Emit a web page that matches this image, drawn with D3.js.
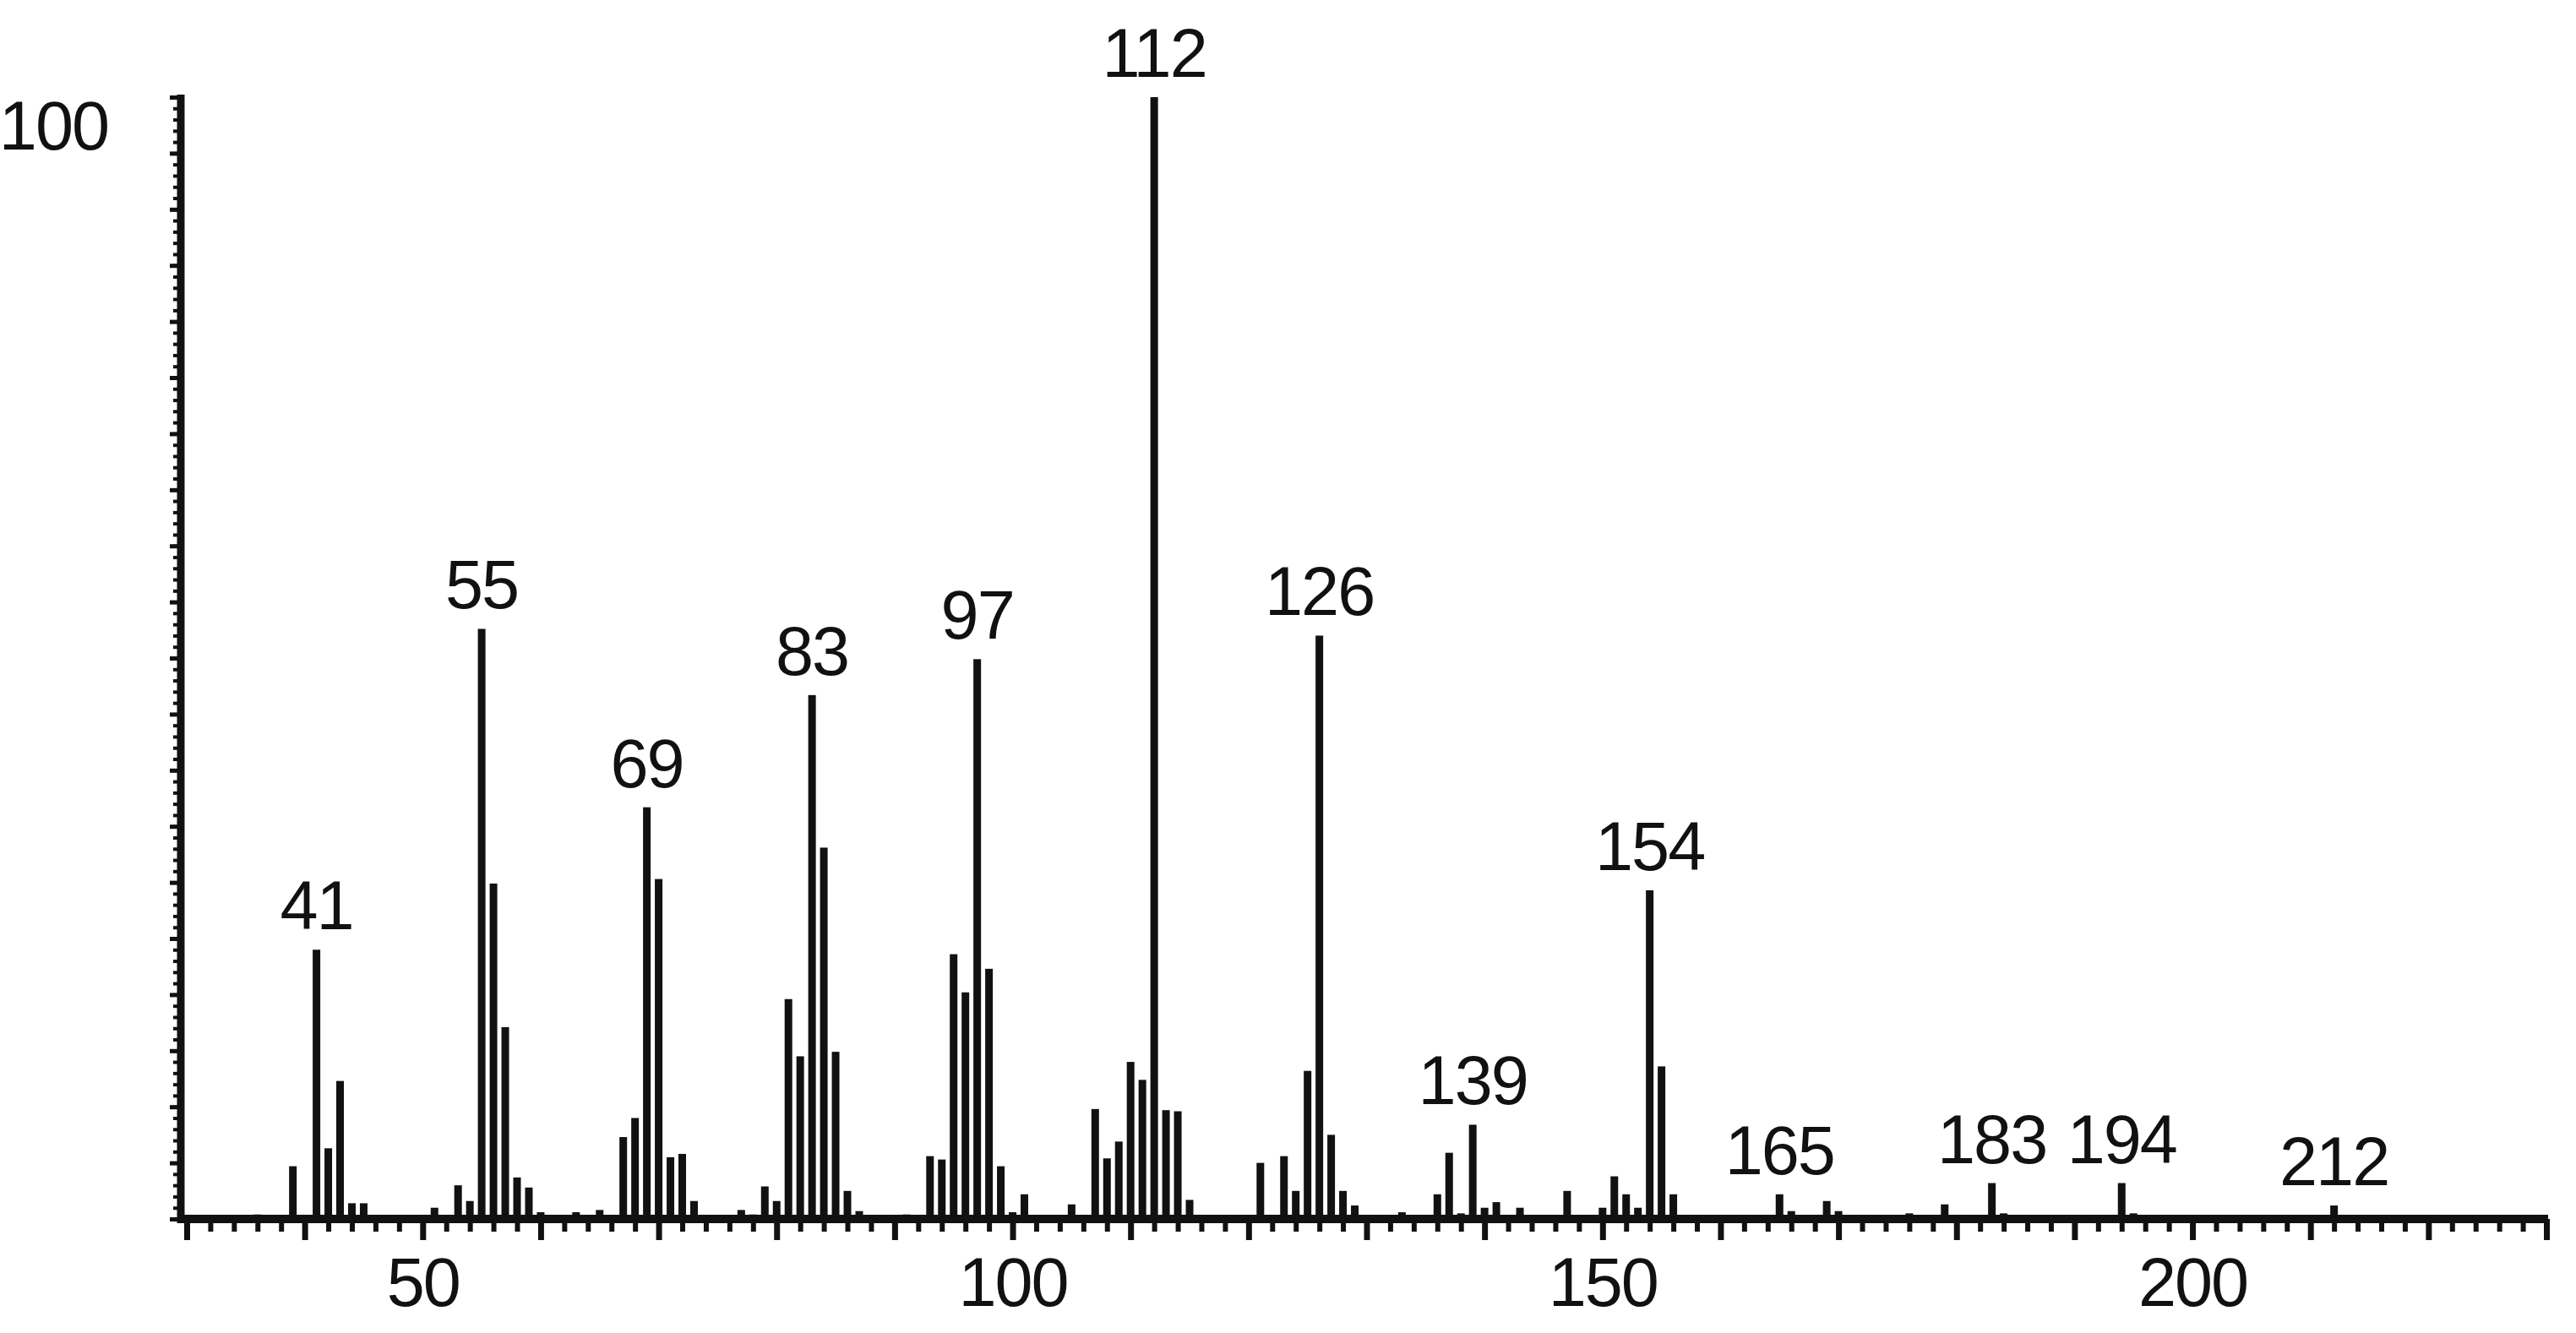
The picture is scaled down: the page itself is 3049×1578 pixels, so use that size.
<!DOCTYPE html>
<html>
<head>
<meta charset="utf-8">
<title>Mass spectrum</title>
<script src="https://d3js.org/d3.v7.min.js"></script>
<style>
  html, body { margin: 0; padding: 0; background: #fff; }
  svg text { font-family: "Liberation Sans", Arial, Helvetica, sans-serif; fill: #111; letter-spacing: -2px; }
</style>
</head>
<body>
<script>
// m/z of every line in the spectrum
const mz = [36, 39, 41, 42, 43, 44, 45,
  51, 53, 54, 55, 56, 57, 58, 59, 60,
  63, 65, 67, 68, 69, 70, 71, 72, 73,
  77, 78, 79, 80, 81, 82, 83, 84, 85, 86, 87,
  91, 92, 93, 94, 95, 96, 97, 98, 99, 100, 101, 105,
  107, 108, 109, 110, 111, 112, 113, 114, 115,
  121, 123, 124, 125, 126, 127, 128, 129, 133,
  136, 137, 138, 139, 140, 141, 142, 143,
  147, 150, 151, 152, 153, 154, 155, 156,
  165, 166, 169, 170, 176, 179, 183, 184, 194, 195, 212];

// relative intensity (%) for each m/z above
const intensity = [0.4, 4.7, 24.0, 6.3, 12.3, 1.4, 1.4,
  1.0, 3.0, 1.6, 52.6, 29.9, 17.1, 3.7, 2.8, 0.6,
  0.6, 0.8, 7.3, 9.0, 36.7, 30.3, 5.5, 5.8, 1.6,
  0.8, 0.4, 2.9, 1.6, 19.6, 14.5, 46.7, 33.1, 14.9, 2.5, 0.7,
  0.4, 0.3, 5.6, 5.3, 23.6, 20.2, 49.9, 22.3, 4.7, 0.6, 2.2, 1.3,
  9.8, 5.4, 6.9, 14.0, 12.4, 100, 9.7, 9.6, 1.7,
  5.0, 5.6, 2.5, 13.2, 52.0, 7.5, 2.5, 1.2, 0.6,
  2.2, 5.9, 0.5, 8.4, 1.0, 1.5, 0.3, 1.0,
  2.5, 1.0, 3.8, 2.2, 1.0, 29.3, 13.6, 2.2,
  2.2, 0.7, 1.6, 0.7, 0.5, 1.3, 3.2, 0.5, 3.2, 0.5, 1.2];

const labelledPeaks = [41, 55, 69, 83, 97, 112, 126, 139, 154, 165, 183, 194, 212];
const xTickLabels = [50, 100, 150, 200];
const yTickLabels = [100];

const W = 3049, H = 1578;
const plotLeft = 214, plotRight = 3014, plotTop = 115, base = 1443;
const fontSize = 81;

const svg = d3.select("body").append("svg")
  .attr("width", W)
  .attr("height", H)
  .style("display", "block");

svg.append("rect").attr("width", W).attr("height", H).attr("fill", "#fff");

const x = d3.scaleLinear().domain([29.5, 230]).range([plotLeft, plotRight]);
const y = d3.scaleLinear().domain([0, 100]).range([base, plotTop]);

const data = mz.map((m, i) => ({ m: m, v: intensity[i] }));

// spectrum lines
svg.append("g")
  .selectAll("rect")
  .data(data)
  .enter()
  .append("rect")
  .attr("x", d => x(d.m) - 4.5)
  .attr("y", d => y(d.v))
  .attr("width", 9)
  .attr("height", d => base - y(d.v))
  .attr("fill", "#111");

// x axis: minor ticks every 2, major every 10
const minorX = d3.range(30, 231, 2).filter(v => v % 10 !== 0);
const majorX = d3.range(30, 231, 10);

svg.append("g")
  .attr("transform", "translate(0," + base + ")")
  .call(d3.axisBottom(x).tickValues(minorX).tickSize(15).tickSizeOuter(0).tickFormat(""))
  .call(g => g.select(".domain").remove())
  .selectAll("line").attr("stroke", "#111").attr("stroke-width", 6);

svg.append("g")
  .attr("transform", "translate(0," + base + ")")
  .call(d3.axisBottom(x).tickValues(majorX).tickSize(25).tickSizeOuter(0).tickFormat(""))
  .call(g => g.select(".domain").remove())
  .selectAll("line").attr("stroke", "#111").attr("stroke-width", 7);

svg.append("line")
  .attr("x1", plotLeft - 4).attr("x2", plotRight + 2)
  .attr("y1", base).attr("y2", base)
  .attr("stroke", "#111").attr("stroke-width", 10);

// x tick labels
svg.append("g")
  .attr("transform", "translate(0," + base + ")")
  .call(d3.axisBottom(x).tickValues(xTickLabels).tickSize(0).tickPadding(45))
  .call(g => g.select(".domain").remove())
  .selectAll("text")
  .attr("dy", "0.71em")
  .style("font-size", fontSize + "px")
  .style("font-family", "'Liberation Sans', Arial, sans-serif")
  .style("fill", "#111");

// y axis ticks on the left side
const minorY = d3.range(0, 100.01, 1);
const majorY = d3.range(0, 100.01, 5);

svg.append("g")
  .attr("transform", "translate(" + plotLeft + ",0)")
  .call(d3.axisLeft(y).tickValues(minorY).tickSize(9).tickSizeOuter(0).tickFormat(""))
  .call(g => g.select(".domain").remove())
  .selectAll("line").attr("stroke", "#111").attr("stroke-width", 4);

svg.append("g")
  .attr("transform", "translate(" + plotLeft + ",0)")
  .call(d3.axisLeft(y).tickValues(majorY).tickSize(13).tickSizeOuter(0).tickFormat(""))
  .call(g => g.select(".domain").remove())
  .selectAll("line").attr("stroke", "#111").attr("stroke-width", 5);

svg.append("line")
  .attr("x1", plotLeft).attr("x2", plotLeft)
  .attr("y1", plotTop - 3).attr("y2", base + 5)
  .attr("stroke", "#111").attr("stroke-width", 9);

// "100" label at the top of the intensity axis
svg.append("g")
  .selectAll("text")
  .data(yTickLabels)
  .enter()
  .append("text")
  .attr("x", 128)
  .attr("y", d => y(d) + 62)
  .attr("text-anchor", "end")
  .style("font-size", fontSize + "px")
  .text(d => d);

// peak labels
const lookup = new Map(data.map(d => [d.m, d.v]));
svg.append("g")
  .selectAll("text")
  .data(labelledPeaks)
  .enter()
  .append("text")
  .attr("x", d => x(d))
  .attr("y", d => y(lookup.get(d)) - 24)
  .attr("text-anchor", "middle")
  .style("font-size", fontSize + "px")
  .text(d => d);
</script>
</body>
</html>
